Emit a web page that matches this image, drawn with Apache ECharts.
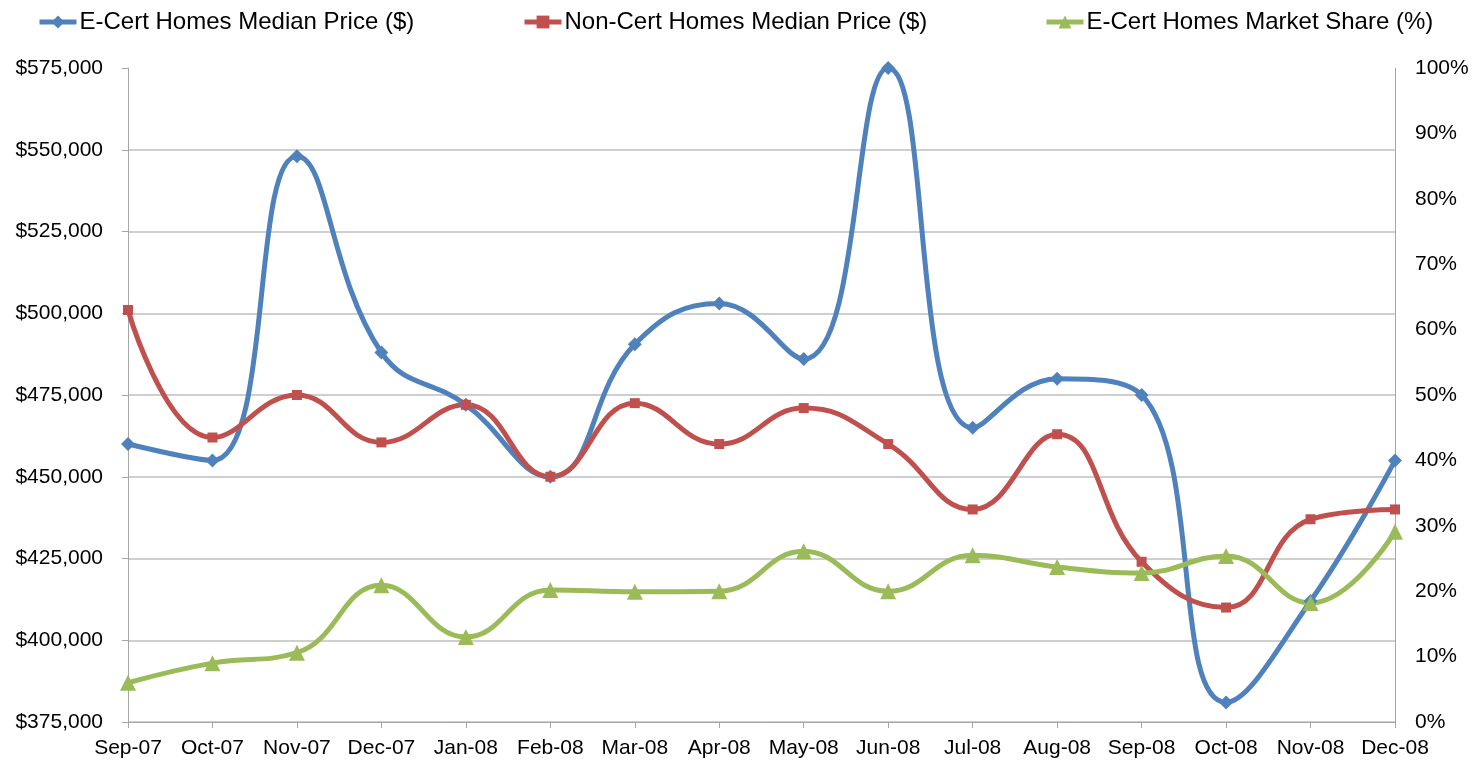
<!DOCTYPE html>
<html>
<head>
<meta charset="utf-8">
<script src="https://cdn.jsdelivr.net/npm/echarts@6/dist/echarts.min.js"></script>
<style>
  html, body { margin: 0; padding: 0; background: #fff; }
  #chart { width: 1483px; height: 766px; }
</style>
</head>
<body>
<div id="chart"></div>
<script>
// 月份
const months = ['Sep-07', 'Oct-07', 'Nov-07', 'Dec-07', 'Jan-08', 'Feb-08', 'Mar-08', 'Apr-08',
  'May-08', 'Jun-08', 'Jul-08', 'Aug-08', 'Sep-08', 'Oct-08', 'Nov-08', 'Dec-08'];

// E-Cert 中位价
const ecertPrice = [460000, 455000, 548000, 488000, 472000, 450000, 490500, 503000,
  486000, 575000, 465000, 480000, 475000, 381000, 412000, 455000];

// Non-Cert 中位价
const nonCertPrice = [501000, 462000, 475000, 460500, 472000, 450000, 472500, 460000,
  471000, 460000, 440000, 463000, 424000, 410000, 437000, 440000];

// E-Cert 市场份额 (%)
const ecertShare = [6.0, 9.0, 10.6, 20.9, 13.0, 20.2, 19.9, 20.0,
  26.1, 20.0, 25.5, 23.7, 22.8, 25.4, 18.2, 29.1];

const names = ['E-Cert Homes Median Price ($)', 'Non-Cert Homes Median Price ($)', 'E-Cert Homes Market Share (%)'];
const colors = ['#4F81BD', '#C0504D', '#9BBB59'];

const font = 'Liberation Sans, Arial, sans-serif';

function legendAt(left, name) {
  return {
    left: left,
    top: 10,
    padding: 0,
    itemWidth: 37,
    itemHeight: 16,
    data: [name],
    lineStyle: { width: 5 },
    textStyle: { fontFamily: font, fontSize: 24, color: '#000', padding: [0, 0, 0, -2] }
  };
}

// 价格轴网格线：最顶上一条不画
const gridColors = ['#bfbfbf', '#bfbfbf', '#bfbfbf', '#bfbfbf', '#bfbfbf', '#bfbfbf', '#bfbfbf', '#bfbfbf', 'rgba(0,0,0,0)'];

const chartOpts = {
  animation: false,
  color: colors,
  legend: [legendAt(37, names[0]), legendAt(522, names[1]), legendAt(1044, names[2])],
  grid: { left: 128, right: 88, top: 68, bottom: 44 },
  xAxis: {
    type: 'category',
    data: months,
    boundaryGap: false,
    axisLine: { lineStyle: { color: '#a6a6a6', width: 1 } },
    axisTick: { show: true, length: 6, lineStyle: { color: '#a6a6a6' } },
    axisLabel: { color: '#000', fontFamily: font, fontSize: 21, margin: 16, interval: 0 }
  },
  yAxis: [
    {
      type: 'value',
      min: 375000,
      max: 575000,
      interval: 25000,
      axisLine: { show: true, lineStyle: { color: '#a6a6a6' } },
      axisTick: { show: true, length: 6, lineStyle: { color: '#a6a6a6' } },
      axisLabel: {
        color: '#000', fontFamily: font, fontSize: 21, margin: 25,
        formatter: v => '$' + v.toLocaleString('en-US')
      },
      splitLine: { show: true, lineStyle: { color: gridColors, width: 1.5 } }
    },
    {
      type: 'value',
      min: 0,
      max: 100,
      interval: 10,
      axisLine: { show: true, lineStyle: { color: '#a6a6a6' } },
      axisTick: { show: false },
      axisLabel: { color: '#000', fontFamily: font, fontSize: 21, margin: 20, formatter: '{value}%' },
      splitLine: { show: false }
    }
  ],
  series: [
    {
      name: names[0],
      type: 'line',
      data: ecertPrice,
      smooth: 0.45,
      symbol: 'diamond',
      symbolSize: 14,
      lineStyle: { width: 5 }
    },
    {
      name: names[1],
      type: 'line',
      data: nonCertPrice,
      smooth: 0.45,
      symbol: 'rect',
      symbolSize: 10,
      lineStyle: { width: 5 }
    },
    {
      name: names[2],
      type: 'line',
      yAxisIndex: 1,
      data: ecertShare,
      smooth: 0.45,
      symbol: 'triangle',
      symbolSize: 16,
      lineStyle: { width: 5 }
    }
  ]
};

const chart = echarts.init(document.getElementById('chart'));
chart.setOption(chartOpts);
</script>
</body>
</html>
